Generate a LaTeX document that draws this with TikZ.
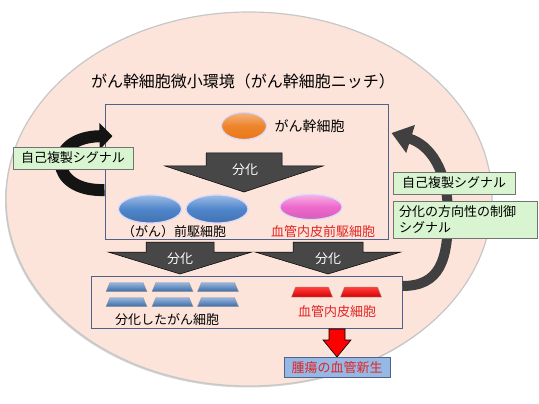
\documentclass[tikz,border=0pt]{standalone}
\usepackage{fontspec}
\setmainfont{Noto Sans CJK JP}
\usepackage{tikz}
\usetikzlibrary{shapes.geometric, arrows.meta, positioning, shadows}
\definecolor{nichepink}{RGB}{252, 228, 218}
\definecolor{boxblue}{RGB}{79, 98, 140}
\definecolor{signalgreen}{RGB}{216, 244, 208}
\definecolor{cellorange}{RGB}{236, 118, 20}
\definecolor{cellblue}{RGB}{79, 134, 204}
\definecolor{cellpink}{RGB}{238, 104, 204}
\definecolor{textred}{RGB}{226, 36, 36}
\definecolor{tumorblue}{RGB}{150, 184, 228}

\begin{document}
\begin{tikzpicture}[x=1pt, y=-1pt,
    cellbox/.style={rectangle, draw=boxblue, line width=1pt, inner sep=0pt},
    signal/.style={rectangle, draw=black!55, fill=signalgreen, font=\fontsize{13}{16}\selectfont,
                   inner sep=0pt, align=left},
    bigarrow/.style={draw=black, fill=black!72, line width=0.5pt},
    arrowlabel/.style={font=\fontsize{13}{15}\selectfont, text=white},
    celltext/.style={font=\fontsize{13}{15}\selectfont},
    cell/.style={ellipse, draw=blue!15!white, line width=1.2pt, inner sep=0pt},
    tcell/.style={draw=black!40, line width=0.4pt}
]
\useasboundingbox (0,0) rectangle (539,404);

% Niche
\node[ellipse, minimum width=486pt, minimum height=374pt, fill=nichepink, draw=black!22, line width=1.2pt,
      drop shadow={shadow xshift=-1pt, shadow yshift=-1.5pt, opacity=0.35}] (niche) at (249,199) {};
\node[font=\fontsize{16}{18}\selectfont] (title) at (243,81) {がん幹細胞微小環境（がん幹細胞ニッチ）};

% Boxes
\node[cellbox, minimum width=283pt, minimum height=134pt] (stembox) at (246.5,172) {};
\node[cellbox, minimum width=311pt, minimum height=52pt] (diffbox) at (246.5,302) {};

% Self-renewal loops
\draw[line width=12pt, black!92, -{Triangle[length=13pt, width=26pt]}]
    ([yshift=-18pt]stembox.west) .. controls (48,192) and (46,137) .. ([xshift=8pt, yshift=36pt]stembox.west);
\draw[line width=10pt, black!75, -{Triangle[length=20pt, width=28pt]}]
    ([yshift=16pt]diffbox.east) .. controls (440,286) and (448,260) .. (448,215)
    .. controls (448,170) and (430,145) .. ([xshift=3pt, yshift=39pt]stembox.east);

% Stem cell
\node[cell, minimum width=45pt, minimum height=27pt, top color=cellorange!55!white, bottom color=cellorange,
      middle color=cellorange!90!white] (stem) at (244,126) {};
\node[font=\fontsize{14}{16}\selectfont, right=4pt of stem] (stemlabel) {がん幹細胞};

% Differentiation arrows
\draw[bigarrow, shift={(244,0)}] (-38,153) -- (38,153) -- (38,166) -- (79,166) -- (0,192) -- (-79,166) -- (-38,166) -- cycle;
\node[arrowlabel] (diff1) at (245,170) {分化};
\draw[bigarrow, shift={(180,0)}] (-34,242) -- (34,242) -- (34,252) -- (72,252) -- (0,274) -- (-72,252) -- (-34,252) -- cycle;
\node[arrowlabel] (diff2) at (180,259) {分化};
\draw[bigarrow, shift={(328,0)}] (-35,242) -- (35,242) -- (35,252) -- (73,252) -- (0,274) -- (-73,252) -- (-35,252) -- cycle;
\node[arrowlabel] (diff3) at (328,259) {分化};

% Progenitors
\node[cell, minimum width=63pt, minimum height=28pt, top color=cellblue!55!white, bottom color=cellblue!85!black,
      middle color=cellblue] (prog1) at (150,209) {};
\node[cell, minimum width=62pt, minimum height=28pt, top color=cellblue!55!white, bottom color=cellblue!85!black,
      middle color=cellblue] (prog2) at (217,209) {};
\node[cell, minimum width=62pt, minimum height=25pt, top color=cellpink!50!white, bottom color=cellpink!90!black,
      middle color=cellpink] (endoprog) at (311,207) {};
\node[celltext] (proglabel) at (174,232) {（がん）前駆細胞};
\node[celltext, text=textred] (endoproglabel) at (323,232) {血管内皮前駆細胞};

% Differentiated cells
\foreach \x in {126.5,172.5,218}
    \foreach \y in {287,302}
        \shade[tcell, top color=cellblue!60!white, bottom color=cellblue!80!black]
            (\x-20.5,\y+4.5) -- (\x-16.5,\y-4.5) -- (\x+16.5,\y-4.5) -- (\x+20.5,\y+4.5) -- cycle;
\foreach \x in {312,361}
    \shade[tcell, top color=red!75!white, bottom color=red!85!black]
        (\x-20.5,297) -- (\x-16.5,287) -- (\x+16.5,287) -- (\x+20.5,297) -- cycle;
\node[celltext] (dcelllabel) at (167,320) {分化したがん細胞};
\node[celltext, text=textred] (ecelllabel) at (337,312) {血管内皮細胞};

% Angiogenesis
\draw[draw=black, fill=red, line width=0.6pt, shift={(337,0)}] (-8,329) -- (8,329) -- (8,340) -- (14,340) -- (0,357) -- (-14,340) -- (-8,340) -- cycle;
\node[rectangle, draw=boxblue, fill=tumorblue, minimum width=106pt, minimum height=20pt, inner sep=0pt,
      font=\fontsize{13}{15}\selectfont, text=textred] (tumor) at (337,367.5) {腫瘍の血管新生};

% Signals
\node[signal, minimum width=120pt, minimum height=22pt, align=center] (signal1) at (73,158) {自己複製シグナル};
\node[signal, minimum width=122pt, minimum height=22pt, align=center] (signal2) at (454,183) {自己複製シグナル};
\node[signal, minimum height=37pt, inner xsep=6pt, text width=132pt] (signal3) at (465,219.5) {分化の方向性の制御\\シグナル};

\end{tikzpicture}
\end{document}
